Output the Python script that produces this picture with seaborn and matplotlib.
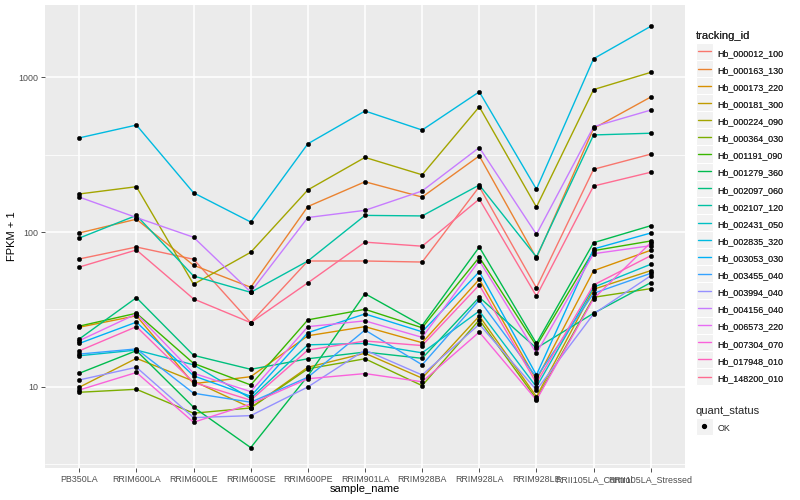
import numpy as np
import pandas as pd
import matplotlib
matplotlib.use("Agg")
import matplotlib.pyplot as plt
import seaborn as sns
from matplotlib.lines import Line2D
from matplotlib.patches import Rectangle
from matplotlib.legend_handler import HandlerBase
from matplotlib.ticker import FixedLocator, NullFormatter

samples = ["PB350LA", "RRIM600LA", "RRIM600LE", "RRIM600SE", "RRIM600PE", "RRIM901LA",
           "RRIM928BA", "RRIM928LA", "RRIM928LE", "RRII105LA_Control", "RRII105LA_Stressed"]

tracking_ids = ["Hb_000012_100", "Hb_000163_130", "Hb_000173_220", "Hb_000181_300", "Hb_000224_090",
                "Hb_000364_030", "Hb_001191_090", "Hb_001279_360", "Hb_002097_060", "Hb_002107_120",
                "Hb_002431_050", "Hb_002835_320", "Hb_003053_030", "Hb_003455_040", "Hb_003994_040",
                "Hb_004156_040", "Hb_006573_220", "Hb_007304_070", "Hb_017948_010", "Hb_148200_010"]

# FPKM + 1 values per gene, one per sample
Hb_000012_100 = [67, 80, 66.7, 26, 65, 65, 64, 196, 43.6, 254, 318]
Hb_000163_130 = [98.6, 121, 61, 44, 146, 211, 168, 310, 68, 466, 743]
Hb_000173_220 = [24.3, 28.8, 10.5, 11.65, 21.4, 24.5, 19.3, 49.5, 11.1, 56.3, 76.2]
Hb_000181_300 = [9.96, 15.3, 10.9, 7.35, 13.4, 16.5, 11.4, 28.7, 8.66, 42.7, 56.3]
Hb_000224_090 = [176, 196, 46, 74, 187, 303, 234, 643, 145, 830, 1072]
Hb_000364_030 = [9.24, 9.66, 6.77, 7.32, 13.1, 15.2, 10.2, 27.1, 8.37, 37.9, 43.1]
Hb_001191_090 = [24.7, 29.9, 14.2, 10.3, 27.1, 31.7, 24.1, 68.7, 18.4, 75.8, 87.5]
Hb_001279_360 = [12.26, 17.15, 7.40, 4.06, 11.78, 40.0, 24.9, 80.0, 19.1, 85.3, 109.8]
Hb_002097_060 = [20.4, 37.7, 16.0, 13.0, 15.2, 16.8, 15.3, 37.9, 17.8, 29.9, 47.1]
Hb_002107_120 = [91.4, 128, 52, 40.8, 65, 128, 127, 201, 69, 423, 434]
Hb_002431_050 = [15.9, 17.3, 13.9, 8.43, 18.7, 19.1, 16.6, 30.9, 10.0, 44.0, 61.9]
Hb_002835_320 = [405, 490, 179, 116, 371, 604, 455, 803, 189, 1313, 2125]
Hb_003053_030 = [19.1, 26.2, 11.8, 8.71, 22.4, 29.6, 22.7, 55.4, 11.95, 77.7, 98.5]
Hb_003455_040 = [16.3, 17.6, 9.11, 7.97, 11.55, 23.3, 13.9, 36.4, 11.55, 40.2, 54.1]
Hb_003994_040 = [11.1, 13.4, 6.34, 6.53, 10.0, 17.3, 11.95, 25.4, 9.56, 29.6, 52.2]
Hb_004156_040 = [168, 124, 92.5, 41, 124, 138, 184, 351, 96.6, 478, 612]
Hb_006573_220 = [19.9, 29.6, 12.26, 9.33, 24.5, 26.7, 20.9, 65.3, 16.5, 72.4, 81.6]
Hb_007304_070 = [9.56, 12.4, 5.92, 7.77, 11.3, 12.2, 10.8, 22.6, 8.24, 37.1, 85.3]
Hb_017948_010 = [17.1, 24.5, 10.7, 8.21, 17.3, 19.8, 18.5, 45.5, 10.6, 45.5, 70.3]
Hb_148200_010 = [59.4, 76.6, 37, 26, 47, 86, 81, 163, 38.6, 198, 243]

series_values = [Hb_000012_100, Hb_000163_130, Hb_000173_220, Hb_000181_300, Hb_000224_090,
                 Hb_000364_030, Hb_001191_090, Hb_001279_360, Hb_002097_060, Hb_002107_120,
                 Hb_002431_050, Hb_002835_320, Hb_003053_030, Hb_003455_040, Hb_003994_040,
                 Hb_004156_040, Hb_006573_220, Hb_007304_070, Hb_017948_010, Hb_148200_010]

palette = ["#F8766D", "#EA8331", "#D89000", "#C09B00", "#A3A500", "#7CAE00", "#39B600", "#00BB4E",
           "#00BF7D", "#00C1A3", "#00BFC4", "#00BAE0", "#00B0F6", "#35A2FF", "#9590FF", "#C77CFF",
           "#E76BF3", "#FA62DB", "#FF62BC", "#FF6C91"]

y_ticks = [10, 100, 1000]
y_tick_labels = ["10", "100", "1000"]

rows = []
for tid, vals in zip(tracking_ids, series_values):
    for s, v in zip(samples, vals):
        rows.append({"tracking_id": tid, "sample_name": s, "value": v, "quant_status": "OK"})
df = pd.DataFrame(rows)
df["x"] = df["sample_name"].map({s: i for i, s in enumerate(samples)})

sns.set_theme(style="darkgrid")
plt.rcParams["font.family"] = ["Liberation Sans", "DejaVu Sans"]

fig = plt.figure(figsize=(8, 5), dpi=100)
ax = fig.add_axes([45 / 800, 1 - 468 / 500, 640 / 800, 463 / 500])
ax.set_facecolor("#EBEBEB")

sns.lineplot(data=df, x="x", y="value", hue="tracking_id", hue_order=tracking_ids,
             palette=palette, linewidth=1.0, legend=False, ax=ax, estimator=None, sort=False)
sns.scatterplot(data=df, x="x", y="value", color="black", s=10, edgecolor="black",
                linewidth=0.3, legend=False, ax=ax, zorder=5)

ax.set_yscale("log")
ax.set_ylim(10 ** 0.477, 10 ** 3.465)
ax.set_xlim(-0.6, len(samples) - 1 + 0.6)
ax.yaxis.set_major_locator(FixedLocator(y_ticks))
ax.set_yticklabels(y_tick_labels)
ax.yaxis.set_minor_locator(FixedLocator([10 ** 0.5, 10 ** 1.5, 10 ** 2.5, 10 ** 3.5]))
ax.yaxis.set_minor_formatter(NullFormatter())
ax.set_xticks(range(len(samples)))
ax.set_xticklabels(samples)

ax.grid(which="major", color="white", linewidth=1.1)
ax.grid(which="minor", axis="y", color="white", linewidth=0.55)
for sp in ax.spines.values():
    sp.set_visible(False)
ax.tick_params(axis="both", which="major", length=3, width=0.6, color="#333333",
               labelsize=6.4, labelcolor="#4D4D4D", pad=2, bottom=True, left=True)
ax.tick_params(axis="y", which="minor", length=0)
ax.set_xlabel("sample_name", fontsize=8, color="black", labelpad=0)
ax.set_ylabel("FPKM + 1", fontsize=8, color="black", labelpad=1)


class KeyHandler(HandlerBase):
    def __init__(self, kind="line"):
        super().__init__()
        self.kind = kind

    def create_artists(self, legend, orig_handle, xdescent, ydescent, width, height, fontsize, trans):
        r = Rectangle((-xdescent, -ydescent - 2.4), width, width, facecolor="#F2F2F2",
                      edgecolor="white", linewidth=0.8, transform=trans)
        cy = -ydescent - 2.4 + width / 2
        if self.kind == "line":
            a = Line2D([-xdescent + 1.5, -xdescent + width - 1.5], [cy, cy],
                       color=orig_handle.get_color(), linewidth=1.0, transform=trans)
        else:
            a = Line2D([-xdescent + width / 2], [cy], marker="o", markersize=2.8,
                       color="black", linestyle="none", transform=trans)
        return [r, a]


handles = [Line2D([0], [0], color=c) for c in palette]
leg1 = fig.legend(handles, tracking_ids, loc="upper left", bbox_to_anchor=(694 / 800, 1 - 29 / 500),
                  frameon=False, title="tracking_id", fontsize=6.4, title_fontsize=8,
                  handlelength=1.95, handleheight=1.0, labelspacing=0.91, handletextpad=0.5,
                  borderaxespad=0, borderpad=0.2, alignment="left",
                  handler_map={Line2D: KeyHandler("line")})
fig.add_artist(leg1)
h2 = [Rectangle((0, 0), 1, 1)]
leg2 = fig.legend(h2, ["OK"], loc="upper left", bbox_to_anchor=(694 / 800, 1 - 404 / 500),
                  frameon=False, title="quant_status", fontsize=6.4, title_fontsize=8,
                  handlelength=1.95, handleheight=1.0, labelspacing=0.91, handletextpad=0.5,
                  borderaxespad=0, borderpad=0.2, alignment="left",
                  handler_map={Rectangle: KeyHandler("point")})

fig.savefig("out.png", dpi=100)
